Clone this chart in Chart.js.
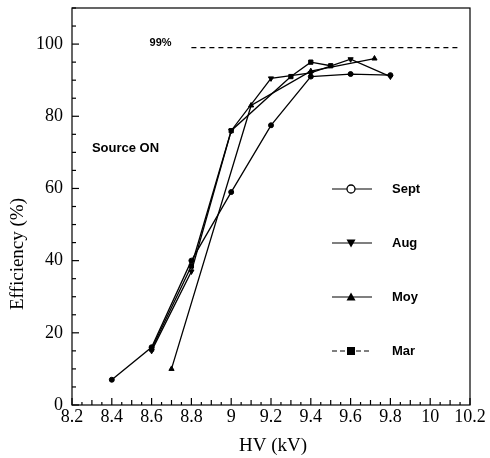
<!DOCTYPE html>
<html>
<head>
<meta charset="utf-8">
<script src="https://cdn.jsdelivr.net/npm/chart.js@4/dist/chart.umd.min.js"></script>
<style>
  body { margin: 0; background: #fff; }
  canvas { display: block; }
</style>
</head>
<body>
<canvas id="eff" width="490" height="458"></canvas>
<script>
// values
var septX = [8.4, 8.6, 8.8, 9.0, 9.2, 9.4, 9.6, 9.8];
var septY = [7, 16, 40, 59, 77.5, 91, 91.7, 91.4];
var augX = [8.6, 8.8, 9.0, 9.2, 9.4, 9.6, 9.8];
var augY = [15, 37, 76, 90.5, 92, 95.8, 91];
var moyX = [8.7, 9.1, 9.4, 9.72];
var moyY = [10, 83, 92.5, 96];
var marX = [8.6, 8.8, 9.0, 9.3, 9.4, 9.5];
var marY = [15.5, 38.5, 76, 91, 95, 94];
var refX = [8.8, 10.14];
var refY = [99, 99];
var xTicks = [8.2, 8.4, 8.6, 8.8, 9, 9.2, 9.4, 9.6, 9.8, 10, 10.2];
var yTicks = [0, 20, 40, 60, 80, 100];
var legendNames = ['Sept', 'Aug', 'Moy', 'Mar'];

function pts(xs, ys) {
    return xs.map(function(x, i) { return {x: x, y: ys[i]}; });
}

function series(xs, ys, style, r, rot) {
    return {
        data: pts(xs, ys),
        borderColor: '#000',
        backgroundColor: '#000',
        borderWidth: 1.3,
        pointStyle: style,
        pointRadius: r,
        pointRotation: rot || 0,
        pointBorderWidth: 1,
        tension: 0
    };
}

var serif = 'Liberation Serif';

function drawMarker(ctx, kind, x, y) {
    ctx.beginPath();
    if (kind == 0) {
        ctx.arc(x, y, 4, 0, Math.PI * 2);
        ctx.fillStyle = '#fff';
        ctx.fill();
        ctx.lineWidth = 1.3;
        ctx.stroke();
        return;
    }
    if (kind == 1) {
        ctx.moveTo(x - 4.5, y - 3.5); ctx.lineTo(x + 4.5, y - 3.5); ctx.lineTo(x, y + 4.5);
    } else if (kind == 2) {
        ctx.moveTo(x - 4.5, y + 3.5); ctx.lineTo(x + 4.5, y + 3.5); ctx.lineTo(x, y - 4.5);
    } else {
        ctx.rect(x - 4, y - 4, 8, 8);
    }
    ctx.closePath();
    ctx.fillStyle = '#000';
    ctx.fill();
}

var decor = {
    id: 'decor',
    afterDraw: function(chart) {
        var ctx = chart.ctx;
        var a = chart.chartArea;
        var xs = chart.scales.x, ys = chart.scales.y;
        ctx.save();
        ctx.strokeStyle = '#000';
        ctx.fillStyle = '#000';
        ctx.lineWidth = 1.2;
        ctx.strokeRect(a.left, a.top, a.right - a.left, a.bottom - a.top);

        // inward ticks
        ctx.lineWidth = 1.2;
        var i, v, p, len;
        for (i = 0; i <= 40; i++) {
            v = 8.2 + i * 0.05;
            p = xs.getPixelForValue(v);
            len = (i % 4 == 0) ? 7 : (i % 2 == 0 ? 5 : 3);
            ctx.beginPath(); ctx.moveTo(p, a.bottom); ctx.lineTo(p, a.bottom - len); ctx.stroke();
        }
        for (i = 0; i <= 22; i++) {
            v = i * 5;
            p = ys.getPixelForValue(v);
            len = (i % 4 == 0) ? 7 : 4;
            ctx.beginPath(); ctx.moveTo(a.left, p); ctx.lineTo(a.left + len, p); ctx.stroke();
        }

        // axis titles
        ctx.font = '19px "' + serif + '"';
        ctx.textAlign = 'center';
        ctx.textBaseline = 'middle';
        ctx.fillText('HV (kV)', (a.left + a.right) / 2 + 2, 446);
        ctx.save();
        ctx.translate(18, 254);
        ctx.rotate(-Math.PI / 2);
        ctx.fillText('Efficiency (%)', 0, 0);
        ctx.restore();

        // annotations
        ctx.font = 'bold 13px "Liberation Sans"';
        ctx.textAlign = 'left';
        ctx.fillText('Source ON', xs.getPixelForValue(8.3), ys.getPixelForValue(71.2));
        ctx.font = 'bold 11px "Liberation Sans"';
        ctx.fillText('99%', xs.getPixelForValue(8.59), ys.getPixelForValue(100.2));

        // legend
        var ly = [189, 243, 297, 351];
        for (i = 0; i < legendNames.length; i++) {
            ctx.lineWidth = 1.2;
            ctx.setLineDash(i == 3 ? [5, 3] : []);
            ctx.beginPath(); ctx.moveTo(332, ly[i]); ctx.lineTo(372, ly[i]); ctx.stroke();
            ctx.setLineDash([]);
            drawMarker(ctx, i, 351, ly[i]);
            ctx.fillStyle = '#000';
            ctx.font = 'bold 13px "Liberation Sans"';
            ctx.fillText(legendNames[i], 392, ly[i]);
        }
        ctx.restore();
    }
};

var refLine = {
    data: pts(refX, refY),
    borderColor: '#000',
    borderWidth: 1.2,
    borderDash: [5, 4],
    pointRadius: 0
};

var chart = new Chart(document.getElementById('eff'), {
    type: 'line',
    data: {
        datasets: [
            series(septX, septY, 'circle', 2.5),
            series(augX, augY, 'triangle', 3, 180),
            series(moyX, moyY, 'triangle', 3),
            series(marX, marY, 'rect', 3),
            refLine
        ]
    },
    options: {
        responsive: false,
        animation: false,
        devicePixelRatio: 1,
        layout: { padding: { left: 0, top: 8, right: 20, bottom: 0 } },
        plugins: { legend: { display: false }, tooltip: { enabled: false } },
        scales: {
            x: {
                type: 'linear',
                min: 8.2,
                max: 10.2,
                afterBuildTicks: function(s) { s.ticks = xTicks.map(function(v) { return {value: v}; }); },
                afterFit: function(s) { s.height = 53; s.paddingLeft = 0; s.paddingRight = 0; },
                grid: { display: false, drawTicks: false },
                border: { display: false },
                ticks: {
                    color: '#000', font: { family: serif, size: 18 }, padding: 1, maxRotation: 0, autoSkip: false,
                    callback: function(v) { return String(Math.round(v * 10) / 10); }
                }
            },
            y: {
                type: 'linear',
                min: 0,
                max: 110,
                afterBuildTicks: function(s) { s.ticks = yTicks.map(function(v) { return {value: v}; }); },
                afterFit: function(s) { s.width = 72; s.paddingTop = 0; s.paddingBottom = 0; },
                grid: { display: false, drawTicks: false },
                border: { display: false },
                ticks: { color: '#000', font: { family: serif, size: 18 }, padding: 9 }
            }
        }
    },
    plugins: [decor]
});
</script>
</body>
</html>
